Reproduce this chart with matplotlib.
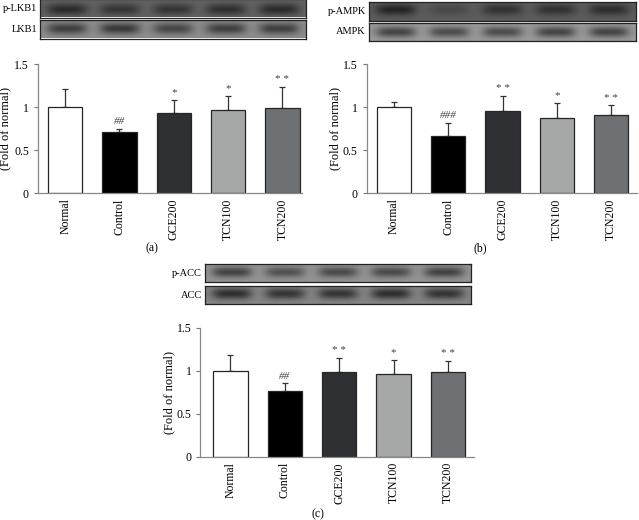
import matplotlib
matplotlib.use('Agg')
import matplotlib.pyplot as plt
import numpy as np

plt.rcParams['font.family'] = ['Liberation Serif', 'DejaVu Serif']

groups = ['Normal', 'Control', 'GCE200', 'TCN100', 'TCN200']
bar_colors = ['#ffffff', '#000000', '#2f3034', '#a5a8a7', '#6e7173']

# bar heights (fold of normal) and upper error
lkb1_mean = [1.0, 0.71, 0.93, 0.965, 0.99]
lkb1_err = [0.21, 0.035, 0.15, 0.165, 0.25]
lkb1_sig = ['', '##', '*', '*', '* *']

ampk_mean = [1.0, 0.67, 0.95, 0.87, 0.91]
ampk_err = [0.058, 0.148, 0.182, 0.177, 0.112]
ampk_sig = ['', '###', '* *', '*', '* *']

acc_mean = [1.0, 0.768, 0.99, 0.967, 0.987]
acc_err = [0.185, 0.086, 0.157, 0.161, 0.129]
acc_sig = ['', '##', '* *', '*', '* *']

# blot lane band darkness (0..1) and background brightness
blots = {
    'p-LKB1': dict(bg=0.38, bands=[0.55, 0.45, 0.45, 0.5, 0.55], ypos=0.6),
    'LKB1':   dict(bg=0.55, bands=[0.55, 0.6, 0.5, 0.55, 0.55], ypos=0.5),
    'p-AMPK': dict(bg=0.36, bands=[0.6, 0.2, 0.45, 0.45, 0.5], ypos=0.4),
    'AMPK':   dict(bg=0.6, bands=[0.55, 0.5, 0.5, 0.55, 0.55], ypos=0.5),
    'p-ACC':  dict(bg=0.58, bands=[0.55, 0.45, 0.5, 0.5, 0.55], ypos=0.45),
    'ACC':    dict(bg=0.52, bands=[0.65, 0.6, 0.6, 0.65, 0.6], ypos=0.45),
}

W, H = 639, 520
fig = plt.figure(figsize=(W / 100, H / 100), dpi=100)


def box(x0, y0, x1, y1):
    return [x0 / W, 1 - y1 / H, (x1 - x0) / W, (y1 - y0) / H]


def blot(name, x0, y0, x1, y1):
    ax = fig.add_axes(box(x0, y0, x1, y1))
    p = blots[name]
    nx, ny = 300, 40
    xx, yy = np.meshgrid(np.linspace(0, 1, nx), np.linspace(0, 1, ny))
    img = np.full((ny, nx), p['bg'])
    for i, s in enumerate(p['bands']):
        xc = (i + 0.5) / 5
        prof = np.exp(-((xx - xc) / 0.075) ** 4) * np.exp(-((yy - p['ypos']) / 0.3) ** 2)
        img = img - s * p['bg'] * prof
    ax.imshow(img, cmap='gray', vmin=0, vmax=1, aspect='auto', interpolation='bilinear')
    ax.set_xticks([])
    ax.set_yticks([])
    for sp in ax.spines.values():
        sp.set_color('#222222')
        sp.set_linewidth(0.9)
    fig.text((x0 - 3) / W, 1 - (y0 + y1) / 2 / H, name, ha='right', va='center', fontsize=7.5)


def chart(x0, y0, x1, y1, xlim, mean, err, sig, label, ylab_x, lab_xy):
    ax = fig.add_axes(box(x0, y0, x1, y1))
    x = np.arange(len(groups))
    ax.bar(x, mean, width=0.63, color=bar_colors, edgecolor='#262626', linewidth=0.9, zorder=2)
    ax.errorbar(x, mean, yerr=[np.zeros(len(mean)), err], fmt='none', ecolor='#333333',
                elinewidth=0.9, capsize=2.2, capthick=0.9, zorder=1)
    for xi, m, e, s in zip(x, mean, err, sig):
        if s:
            ax.annotate(s, (xi, m + e), xytext=(0, 2), textcoords='offset points',
                        ha='center', va='bottom', fontsize=8, color='#444444',
                        style='italic' if '#' in s else 'normal')
    ax.set_xlim(*xlim)
    ax.set_ylim(0, 1.5)
    ax.set_yticks([0, 0.5, 1, 1.5])
    ax.set_yticklabels(['0', '0.5', '1', '1.5'])
    ax.set_xticks(x)
    ax.set_xticklabels(groups, rotation=90)
    ax.tick_params(axis='x', length=0, pad=4, labelsize=8.5)
    ax.tick_params(axis='y', length=3, width=0.8, color='#777777', pad=3.5, labelsize=8.5)
    for s in ['top', 'right']:
        ax.spines[s].set_visible(False)
    for s in ['left', 'bottom']:
        ax.spines[s].set_color('#888888')
        ax.spines[s].set_linewidth(0.9)
    fig.text(ylab_x / W, 1 - (y0 + y1) / 2 / H, '(Fold of normal)', rotation=90,
             ha='center', va='center', fontsize=9)
    fig.text(lab_xy[0] / W, 1 - lab_xy[1] / H, label, ha='center', va='center', fontsize=8.5)


blot('p-LKB1', 40, -1, 306, 17.5)
blot('LKB1', 40, 19.5, 306, 38.5)
blot('p-AMPK', 369, 2, 636, 21)
blot('AMPK', 369, 23, 636, 41)
blot('p-ACC', 205, 264.3, 471, 282.3)
blot('ACC', 205, 285.7, 471, 304.3)

chart(38, 64.3, 302, 193, (-0.5, 4.36), lkb1_mean, lkb1_err, lkb1_sig, '(a)', 5.5, (152, 248))
chart(366.7, 64.3, 636.7, 193, (-0.5, 4.47), ampk_mean, ampk_err, ampk_sig, '(b)', 335, (480, 248))
chart(200.5, 328, 474, 456.5, (-0.55, 4.48), acc_mean, acc_err, acc_sig, '(c)', 169, (318, 514))

fig.savefig('out.png', dpi=100)
